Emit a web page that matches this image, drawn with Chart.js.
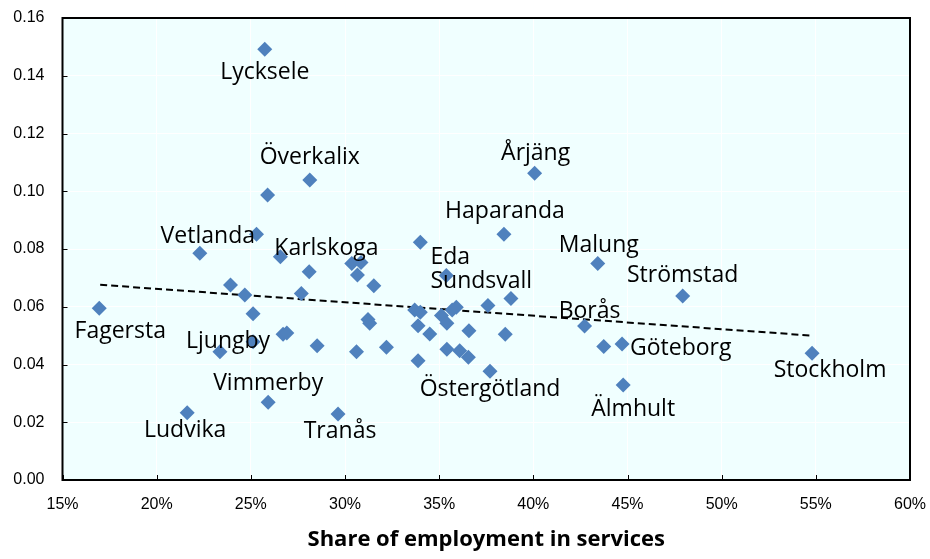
<!DOCTYPE html>
<html>
<head>
<meta charset="utf-8">
<script src="https://cdn.jsdelivr.net/npm/chart.js@4"></script>
<style>
html,body{margin:0;padding:0;background:#fff;}
#wrap{width:930px;height:559px;}
</style>
</head>
<body>
<div id="wrap"><canvas id="c" width="930" height="559"></canvas></div>
<script>
// Share of employment in services (%)
const servicesShare = [25.74,25.89,28.13,40.07,38.44,34.00,25.30,22.29,26.57,28.10,43.42,47.93,35.38,30.36,30.85,30.66,31.53,27.68,23.92,24.68,16.95,25.12,26.71,26.91,25.12,23.36,25.92,21.62,28.52,29.63,31.22,31.31,30.61,32.20,33.70,34.00,33.88,34.50,33.88,35.12,35.41,35.69,35.91,36.58,37.59,38.81,38.51,35.41,36.09,36.55,37.70,42.72,43.74,44.71,44.77,54.80];
// Vertical axis values
const yValues = [0.1492,0.0987,0.1039,0.1062,0.0851,0.0823,0.0851,0.0785,0.0773,0.0721,0.0750,0.0637,0.0708,0.0750,0.0753,0.0710,0.0673,0.0646,0.0675,0.0641,0.0595,0.0576,0.0505,0.0509,0.0479,0.0444,0.0269,0.0233,0.0465,0.0229,0.0556,0.0543,0.0444,0.0460,0.0589,0.0581,0.0534,0.0506,0.0413,0.0570,0.0543,0.0589,0.0598,0.0517,0.0604,0.0629,0.0505,0.0453,0.0448,0.0425,0.0377,0.0533,0.0462,0.0471,0.0329,0.0439];
// Point names (empty = unlabelled)
const names = ["Lycksele","","Överkalix","Årjäng","Haparanda","","","Vetlanda","Karlskoga","","Malung","Strömstad","Eda","","","","","","","","Fagersta","","","","Ljungby","","Vimmerby","Ludvika","","Tranås","","","","","","","","","","","","","Sundsvall","","","","","","","","Östergötland","Borås","","Göteborg","Älmhult","Stockholm"];
// Trend line endpoints
const trendX = [17.0, 54.8];
const trendY = [0.0676, 0.0500];
// Tick labels
const xTicks = [15,20,25,30,35,40,45,50,55,60];
const yTicks = [0,0.02,0.04,0.06,0.08,0.10,0.12,0.14,0.16];
const xTitle = "Share of employment in services";

// label offsets in pixels relative to their point (dx, dy, align)
const labelOffsets = {
  "Lycksele":[0,23,"center"], "Överkalix":[0,-23,"center"], "Årjäng":[1,-20,"center"],
  "Haparanda":[1,-23,"center"], "Vetlanda":[8,-17,"center"], "Karlskoga":[46,-8,"center"],
  "Malung":[1,-18,"center"], "Strömstad":[0,-21,"center"], "Eda":[4,-18,"center"],
  "Sundsvall":[25,-26,"center"], "Fagersta":[21,23,"center"], "Ljungby":[-25,0,"center"],
  "Vimmerby":[0,-19,"center"], "Ludvika":[-2,18,"center"], "Tranås":[2,18,"center"],
  "Östergötland":[0,18,"center"], "Borås":[5,-15,"center"], "Göteborg":[8,4,"left"],
  "Älmhult":[10,24,"center"], "Stockholm":[18,17,"center"]
};

const points = servicesShare.map((x,i)=>({x:x, y:yValues[i]}));
const trend = trendX.map((x,i)=>({x:x, y:trendY[i]}));

const frame = {
  id:'frame',
  beforeDraw(chart){
    const {ctx, chartArea:a} = chart;
    ctx.save();
    ctx.fillStyle = '#F0FFFF';
    ctx.fillRect(a.left, a.top, a.right-a.left, a.bottom-a.top);
    ctx.restore();
  },
  afterDatasetsDraw(chart){
    const {ctx} = chart;
    ctx.save();
    ctx.font = '23px "Open Sans"';
    ctx.fillStyle = '#000';
    ctx.textBaseline = 'middle';
    const meta = chart.getDatasetMeta(1);
    names.forEach((n,i)=>{
      if(!n) return;
      const el = meta.data[i];
      const o = labelOffsets[n] || [0,-18,"center"];
      ctx.textAlign = o[2];
      ctx.fillText(n, el.x + o[0], el.y + o[1]);
    });
    ctx.restore();
  },
  afterDraw(chart){
    const {ctx, chartArea:a, scales} = chart;
    ctx.save();
    ctx.strokeStyle = '#000';
    ctx.lineWidth = 1;
    ctx.beginPath();
    xTicks.forEach(t=>{
      const px = Math.round(scales.x.getPixelForValue(t))+0.5;
      ctx.moveTo(px, a.bottom); ctx.lineTo(px, a.bottom-5);
    });
    yTicks.forEach(t=>{
      const py = Math.round(scales.y.getPixelForValue(t))+0.5;
      ctx.moveTo(a.left, py); ctx.lineTo(a.left+5, py);
    });
    ctx.stroke();
    ctx.lineWidth = 2;
    ctx.strokeRect(a.left, a.top, a.right-a.left, a.bottom-a.top);
    ctx.restore();
  }
};

new Chart(document.getElementById('c'), {
  type:'scatter',
  data:{
    datasets:[
      {type:'line', data:trend, borderColor:'#000', borderWidth:2, borderDash:[7,4], pointRadius:0, fill:false, order:2},
      {data:points, pointStyle:'rectRot', pointRadius:7.5, pointHoverRadius:7.5, backgroundColor:'#4F81BD', borderWidth:0, order:1}
    ]
  },
  options:{
    responsive:false,
    animation:false,
    events:[],
    layout:{padding:{left:0, top:18, right:20, bottom:0}},
    plugins:{legend:{display:false}, tooltip:{enabled:false}},
    scales:{
      x:{
        type:'linear', min:15, max:60,
        afterBuildTicks(s){ s.ticks = xTicks.map(v=>({value:v})); },
        afterFit(s){ s.height = 79; s.paddingLeft = 0; s.paddingRight = 0; },
        grid:{color:'#ffffff', lineWidth:1, drawTicks:false},
        border:{display:false},
        ticks:{padding:15, color:'#000', font:{family:'"Liberation Sans", Arial', size:16}, callback:v=>v+'%', maxRotation:0, autoSkip:false},
        title:{display:true, text:xTitle, color:'#000', font:{family:'"Open Sans"', size:22, weight:'bold'}, padding:{top:0,bottom:6}}
      },
      y:{
        min:0, max:0.16,
        afterBuildTicks(s){ s.ticks = yTicks.map(v=>({value:v})); },
        afterFit(s){ s.width = 62.5; s.paddingTop = 0; s.paddingBottom = 0; },
        grid:{color:'#ffffff', lineWidth:1, drawTicks:false},
        border:{display:false},
        ticks:{padding:18, color:'#000', font:{family:'"Liberation Sans", Arial', size:16}, callback:v=>v.toFixed(2), autoSkip:false}
      }
    }
  },
  plugins:[frame]
});
</script>
</body>
</html>
